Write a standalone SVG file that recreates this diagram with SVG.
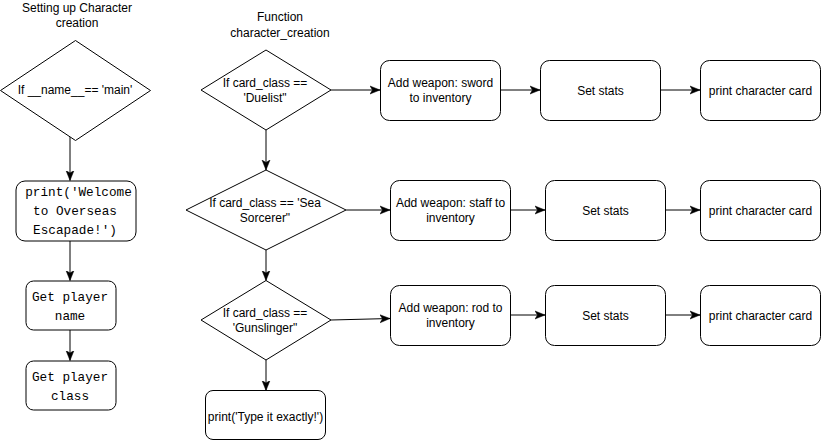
<svg xmlns="http://www.w3.org/2000/svg" width="821" height="441" viewBox="0 0 821 441">
<defs>
<style>
.shape{fill:#ffffff;stroke:#000000;stroke-width:1}
.edge{fill:none;stroke:#000000;stroke-width:1}
.t{font-family:"Liberation Sans",Arial,sans-serif;font-size:12px;fill:#000000;text-anchor:middle}
.m{font-family:"Liberation Mono","DejaVu Sans Mono",monospace;font-size:12.7px;fill:#000000;text-anchor:middle}
</style>
<marker id="arr" markerUnits="userSpaceOnUse" markerWidth="10" markerHeight="10" viewBox="0 0 10 10" refX="10" refY="5" orient="auto">
<path d="M0,1 L10,5 L0,9 L2.5,5 Z" fill="#000000" stroke="#000000" stroke-width="0.5"/>
</marker>
</defs>
<rect width="821" height="441" fill="#ffffff"/>

<g id="title-setup"><text class="t" x="77" y="12">Setting up Character</text><text class="t" x="77" y="27">creation</text></g>
<g id="title-function"><text class="t" x="280" y="21">Function</text><text class="t" x="280" y="37">character_creation</text></g>

<g id="connectors">
<path class="edge" marker-end="url(#arr)" d="M70,134 L70,180.5"/>
<path class="edge" marker-end="url(#arr)" d="M70,241 L70,280.5"/>
<path class="edge" marker-end="url(#arr)" d="M70,330 L70,360.5"/>
<path class="edge" marker-end="url(#arr)" d="M331,90 L380,90"/>
<path class="edge" marker-end="url(#arr)" d="M500,90 L540,90"/>
<path class="edge" marker-end="url(#arr)" d="M661,90 L700,90"/>
<path class="edge" marker-end="url(#arr)" d="M266,130 L266,170"/>
<path class="edge" marker-end="url(#arr)" d="M346,210 L390,210"/>
<path class="edge" marker-end="url(#arr)" d="M511,210 L545,210"/>
<path class="edge" marker-end="url(#arr)" d="M666,210 L700,210"/>
<path class="edge" marker-end="url(#arr)" d="M266,250 L266,280.5"/>
<path class="edge" marker-end="url(#arr)" d="M331,320 L390,318.5"/>
<path class="edge" marker-end="url(#arr)" d="M511,315 L545,315"/>
<path class="edge" marker-end="url(#arr)" d="M666,315 L700,315"/>
<path class="edge" marker-end="url(#arr)" d="M266,360 L266,390.5"/>
</g>

<g id="if-main">
<polygon class="shape" points="75.5,40.5 150.5,90.5 75.5,140.5 0.5,90.5"/>
<text class="t" x="75" y="94">If __name__== 'main'</text>
</g>
<g id="print-welcome">
<rect class="shape" x="16" y="181" width="120" height="60" rx="9" ry="9"/>
<text class="m" x="78.5" y="196">print('Welcome</text>
<text class="m" x="75" y="215">to Overseas</text>
<text class="m" x="75" y="234">Escapade!')</text>
</g>
<g id="get-name">
<rect class="shape" x="26" y="281" width="90" height="49" rx="7.5" ry="7.5"/>
<text class="m" x="70" y="301">Get player</text>
<text class="m" x="70" y="320">name</text>
</g>
<g id="get-class">
<rect class="shape" x="26" y="361" width="90" height="49" rx="7.5" ry="7.5"/>
<text class="m" x="70" y="381">Get player</text>
<text class="m" x="70" y="400">class</text>
</g>

<g id="if-duelist">
<polygon class="shape" points="266,50 331,90 266,130 201,90"/>
<text class="t" x="265" y="87">If card_class ==</text>
<text class="t" x="265" y="101.5">'Duelist"</text>
</g>
<g id="add-sword">
<rect class="shape" x="380.5" y="60.5" width="120" height="60" rx="9" ry="9"/>
<text class="t" x="440.5" y="87">Add weapon: sword</text>
<text class="t" x="440.5" y="102">to inventory</text>
</g>
<g id="stats-1">
<rect class="shape" x="540.5" y="60.5" width="120" height="60" rx="9" ry="9"/>
<text class="t" x="600.5" y="94.5">Set stats</text>
</g>
<g id="card-1">
<rect class="shape" x="700.5" y="60.5" width="120" height="60" rx="9" ry="9"/>
<text class="t" x="760.5" y="94.5">print character card</text>
</g>

<g id="if-sorcerer">
<polygon class="shape" points="266,170 346,210 266,250 186,210"/>
<text class="t" x="265" y="207">If card_class == 'Sea</text>
<text class="t" x="265" y="221.5">Sorcerer"</text>
</g>
<g id="add-staff">
<rect class="shape" x="390.5" y="180.5" width="120" height="60" rx="9" ry="9"/>
<text class="t" x="450.5" y="207">Add weapon: staff to</text>
<text class="t" x="450.5" y="221.5">inventory</text>
</g>
<g id="stats-2">
<rect class="shape" x="545.5" y="180.5" width="120" height="60" rx="9" ry="9"/>
<text class="t" x="605.5" y="214.5">Set stats</text>
</g>
<g id="card-2">
<rect class="shape" x="700.5" y="180.5" width="120" height="60" rx="9" ry="9"/>
<text class="t" x="760.5" y="214.5">print character card</text>
</g>

<g id="if-gunslinger">
<polygon class="shape" points="266,280.5 331,320 266,360 201,320"/>
<text class="t" x="265" y="317">If card_class ==</text>
<text class="t" x="265" y="332">'Gunslinger"</text>
</g>
<g id="add-rod">
<rect class="shape" x="390.5" y="285.5" width="120" height="60" rx="9" ry="9"/>
<text class="t" x="450.5" y="312">Add weapon: rod to</text>
<text class="t" x="450.5" y="326.5">inventory</text>
</g>
<g id="stats-3">
<rect class="shape" x="545.5" y="285.5" width="120" height="60" rx="9" ry="9"/>
<text class="t" x="605.5" y="319.5">Set stats</text>
</g>
<g id="card-3">
<rect class="shape" x="700.5" y="285.5" width="120" height="60" rx="9" ry="9"/>
<text class="t" x="760.5" y="319.5">print character card</text>
</g>

<g id="print-type">
<rect class="shape" x="205.5" y="390.5" width="120" height="49" rx="7.5" ry="7.5"/>
<text class="t" x="265.5" y="421">print('Type it exactly!')</text>
</g>
</svg>
